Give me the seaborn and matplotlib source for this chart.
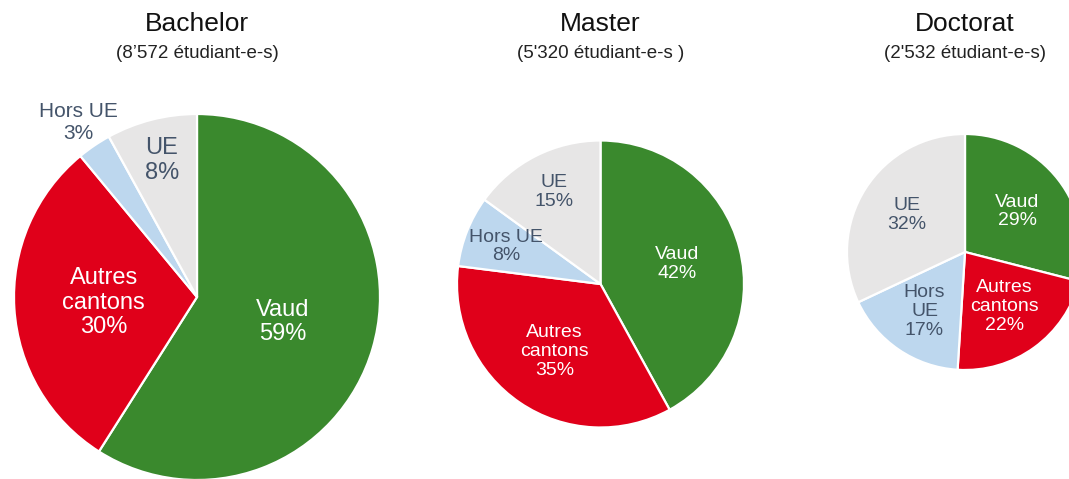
import numpy as np
import matplotlib
matplotlib.use("Agg")
import matplotlib.pyplot as plt
import seaborn as sns

sns.set_theme(style="white")
plt.rcParams['font.family'] = ['Liberation Sans', 'DejaVu Sans']

# ---- data ----
categories = ["Vaud", "Autres cantons", "Hors UE", "UE"]
bachelor = [59, 30, 3, 8]
master = [42, 35, 8, 15]
doctorat = [29, 22, 17, 32]
titles = ["Bachelor", "Master", "Doctorat"]
subtitles = ["(8\u2019572 étudiant-e-s)", "(5'320 étudiant-e-s )", "(2'532 étudiant-e-s)"]
label_texts = [
    ["Vaud\n59%", "Autres\ncantons\n30%", "Hors UE\n3%", "UE\n8%"],
    ["Vaud\n42%", "Autres\ncantons\n35%", "Hors UE\n8%", "UE\n15%"],
    ["Vaud\n29%", "Autres\ncantons\n22%", "Hors\nUE\n17%", "UE\n32%"],
]

# ---- style / layout ----
colors = ["#3A892D", "#E0001A", "#BDD7EE", "#E7E6E6"]
text_colors = ["white", "white", "#44546A", "#44546A"]
W, H = 1069, 479
centers = [(197, 297), (600.5, 284), (965, 252)]
radii = [183, 143.5, 118]
label_dist = [[0.49, 0.51, 1.15, 0.77], [0.55, 0.57, 0.71, 0.72], [0.56, 0.57, 0.61, 0.58]]
label_sizes = [[17, 17, 15, 17], [14, 14, 14, 14], [14, 14, 14, 14]]
label_spacing = [[1.15, 1.15, 1.2, 1.15], [1.15] * 4, [1.15] * 4]

fig = plt.figure(figsize=(W / 100, H / 100), dpi=100)
ax = fig.add_axes([0, 0, 1, 1])

for i, vals in enumerate([bachelor, master, doctorat]):
    cx, cy = centers[i]
    r = radii[i]
    wedges, _ = ax.pie(vals, colors=colors, startangle=90, counterclock=False,
                       center=(cx, H - cy), radius=r,
                       wedgeprops=dict(edgecolor="white", linewidth=1.6))
    for j, w in enumerate(wedges):
        ang = np.deg2rad((w.theta1 + w.theta2) / 2)
        d = label_dist[i][j] * r
        ax.text(cx + d * np.cos(ang), H - cy + d * np.sin(ang), label_texts[i][j],
                ha="center", va="center", color=text_colors[j],
                fontsize=label_sizes[i][j], linespacing=label_spacing[i][j])
    ax.text(cx, H - 24, titles[i], ha="center", va="center", fontsize=19, color="#111111")
    ax.text(cx, H - 53, subtitles[i], ha="center", va="center", fontsize=13.5, color="#222222")

ax.set_xlim(0, W)
ax.set_ylim(0, H)
ax.set_aspect("equal")
ax.axis("off")

fig.savefig("out.png", dpi=100, facecolor="white")
